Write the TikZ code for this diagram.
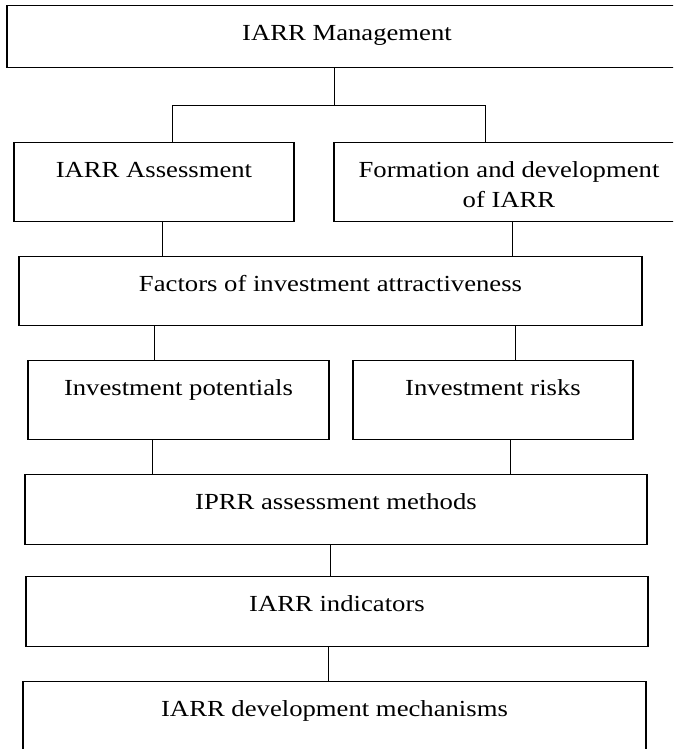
\documentclass[tikz,border=0pt]{standalone}
\usepackage{fontspec}
\setmainfont{Liberation Serif}[FakeStretch=1.16]

\begin{document}
\begin{tikzpicture}[x=1pt,y=-1pt,line width=0.8pt,box/.style={draw,line width=1.2pt,anchor=north,align=center,inner xsep=0pt,inner ysep=0pt,text height=35pt,font=\fontsize{23}{29.5}\selectfont}]

    \useasboundingbox (0,0) rectangle (673,749);
    \clip (0,0) rectangle (673,749);

    \node (1) [box,minimum width=680pt,text depth=27pt] at (347,5) {IARR Management};

    \node (2) [box,minimum width=280pt,text depth=44pt] at (154,142) {IARR Assessment};
    \node (3) [box,minimum width=350pt,text height=64.5pt,text depth=14.5pt] at (509,142) {Formation and development\\of IARR};

    \node (4) [box,minimum width=623pt,text depth=34pt] at (330.5,256) {Factors of investment attractiveness};

    \node (5) [box,minimum width=301pt,text depth=44pt] at (178.5,360) {Investment potentials};
    \node (6) [box,minimum width=280pt,text depth=44pt] at (493,360) {Investment risks};

    \node (7) [box,minimum width=622pt,text depth=35pt] at (336,474) {IPRR assessment methods};
    \node (8) [box,minimum width=622pt,text depth=35pt] at (337,576) {IARR indicators};
    \node (9) [box,minimum width=623pt,text depth=55pt] at (334.5,681) {IARR development mechanisms};

    \coordinate (j) at (334,105);
    \coordinate (jl) at (172,105);
    \coordinate (jr) at (485,105);

    \draw (1.south -| j) -- (j);
    \draw (2.north -| jl) -- (jl) -- (jr) -- (3.north -| jr);

    \draw ([xshift=8pt]2.south) coordinate (a) -- (a |- 4.north);
    \draw ([xshift=3pt]3.south) coordinate (b) -- (b |- 4.north);

    \draw ([xshift=-24.5pt]5.north) coordinate (c) -- (c |- 4.south);
    \draw ([xshift=22pt]6.north) coordinate (d) -- (d |- 4.south);

    \draw ([xshift=-26.5pt]5.south) coordinate (e) -- (e |- 7.north);
    \draw ([xshift=17pt]6.south) coordinate (f) -- (f |- 7.north);

    \draw ([xshift=-6pt]7.south) coordinate (g) -- (g |- 8.north);
    \draw ([xshift=-9pt]8.south) coordinate (h) -- (h |- 9.north);
\end{tikzpicture}
\end{document}
